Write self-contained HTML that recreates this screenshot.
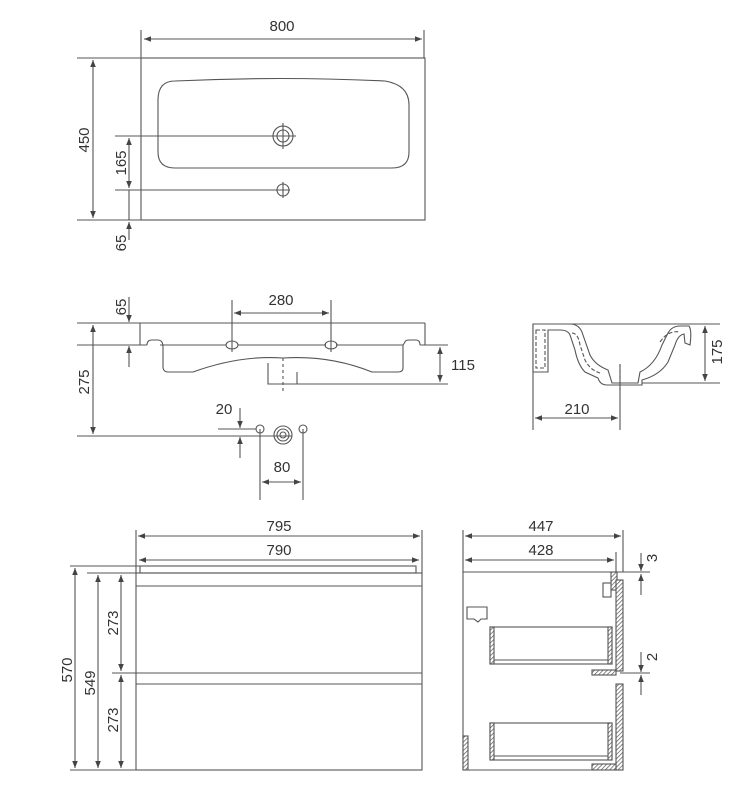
<!DOCTYPE html>
<html><head><style>
html,body{margin:0;padding:0;background:#fff}
svg{display:block}
text{font-family:"Liberation Sans",sans-serif;font-size:15px;fill:#333}
</style></head><body>
<svg width="746" height="800" viewBox="0 0 746 800" xmlns="http://www.w3.org/2000/svg">
<defs>
<marker id="a" viewBox="0 0 10 10" refX="10" refY="5" markerWidth="9" markerHeight="7" orient="auto-start-reverse" markerUnits="userSpaceOnUse"><path d="M0,1 L10,5 L0,9 Z" fill="#444"/></marker>
<pattern id="h" width="3" height="3" patternUnits="userSpaceOnUse" patternTransform="rotate(45)"><rect width="3" height="3" fill="#fff"/><line x1="0" y1="0" x2="0" y2="3" stroke="#555" stroke-width="1.4"/></pattern>
</defs>
<g stroke="#555" stroke-width="1.1" fill="none">
<!-- TOP VIEW -->
<rect x="141" y="58" width="284" height="162"/>
<line x1="141" y1="30" x2="141" y2="58"/><line x1="424" y1="30" x2="424" y2="58"/>
<line x1="144" y1="39" x2="422" y2="39" marker-start="url(#a)" marker-end="url(#a)"/>
<line x1="77" y1="58" x2="141" y2="58"/><line x1="77" y1="220" x2="141" y2="220"/>
<line x1="93" y1="60" x2="93" y2="218" marker-start="url(#a)" marker-end="url(#a)"/>
<path d="M175,81 Q280,76 385,81 Q409,85 409,105 L409,152 Q409,168 392,168 L175,168 Q158,168 158,152 L158,100 Q158,81 175,81 Z"/>
<circle cx="283" cy="136" r="10"/><circle cx="283" cy="136" r="6"/>
<line x1="271" y1="136" x2="296" y2="136"/><line x1="283" y1="123" x2="283" y2="149"/>
<circle cx="283" cy="190" r="6"/><line x1="283" y1="182" x2="283" y2="198"/>
<line x1="115" y1="136" x2="275" y2="136"/><line x1="115" y1="190" x2="290" y2="190"/>
<line x1="129" y1="138" x2="129" y2="188" marker-start="url(#a)" marker-end="url(#a)"/>
<line x1="129" y1="190" x2="129" y2="220"/>
<line x1="129" y1="240" x2="129" y2="222" marker-end="url(#a)"/>
<!-- SIDE VIEW -->
<line x1="77" y1="323" x2="425" y2="323"/>
<line x1="77" y1="345" x2="147" y2="345"/>
<line x1="336" y1="345" x2="403" y2="345"/>
<line x1="238" y1="345" x2="326" y2="345"/>
<line x1="160" y1="345" x2="226" y2="345"/>
<line x1="420" y1="345" x2="448" y2="345"/>
<line x1="140" y1="323" x2="140" y2="345"/><line x1="425" y1="323" x2="425" y2="345"/>
<path d="M147,345 Q147,340 152,340 L158,340 Q162,340 163,345 L163,368 Q164,372 168,372 L193,372 Q240,355 283,358 Q330,355 372,372 L398,372 Q403,372 403,368 L403,345"/>
<path d="M403,345 L405,342 Q405,340 410,340 L416,340 Q420,340 420,345"/>
<path d="M268,363 L268,384 L448,384"/><path d="M297,372 L297,384"/>
<path d="M193,372 L193,372"/>
<line x1="283" y1="358" x2="283" y2="392" stroke-dasharray="3,3"/>
<ellipse cx="232" cy="345" rx="6" ry="4"/><ellipse cx="331" cy="345" rx="6" ry="4"/>
<line x1="232" y1="300" x2="232" y2="352"/><line x1="331" y1="300" x2="331" y2="352"/>
<line x1="234" y1="313" x2="329" y2="313" marker-start="url(#a)" marker-end="url(#a)"/>
<line x1="129" y1="297" x2="129" y2="322" marker-end="url(#a)"/>
<line x1="129" y1="367" x2="129" y2="346" marker-end="url(#a)"/>
<line x1="93" y1="325" x2="93" y2="434" marker-start="url(#a)" marker-end="url(#a)"/>
<line x1="77" y1="436" x2="292" y2="436"/>
<line x1="440" y1="347" x2="440" y2="382" marker-start="url(#a)" marker-end="url(#a)"/>
<line x1="218" y1="429" x2="256" y2="429"/>
<line x1="240" y1="408" x2="240" y2="428" marker-end="url(#a)"/>
<line x1="240" y1="458" x2="240" y2="437" marker-end="url(#a)"/>
<circle cx="260" cy="429" r="4"/><circle cx="303" cy="429" r="4"/>
<circle cx="283" cy="435" r="9"/><circle cx="283" cy="435" r="6"/><circle cx="283" cy="435" r="3"/>
<line x1="260" y1="429" x2="260" y2="500"/><line x1="303" y1="429" x2="303" y2="500"/>
<line x1="262" y1="482" x2="301" y2="482" marker-start="url(#a)" marker-end="url(#a)"/>
<!-- SECTION -->
<line x1="533" y1="324" x2="720" y2="324"/>
<line x1="608" y1="383" x2="720" y2="383"/>
<line x1="705" y1="326" x2="705" y2="381" marker-start="url(#a)" marker-end="url(#a)"/>
<line x1="533" y1="324" x2="533" y2="430"/><line x1="620" y1="365" x2="620" y2="430"/>
<line x1="535" y1="418" x2="618" y2="418" marker-start="url(#a)" marker-end="url(#a)"/>
<path d="M533,324 L570,324 Q580,324 583,335 L590,355 Q595,365 608,370 L612,383 L638,383 L640,372 Q655,365 662,345 L668,333 Q672,326 680,326 L689,326 Q692,330 690,345 L685,343 L684,334 Q678,335 675,345 L668,362 Q660,375 642,380 L642,385 L607,385 Q600,385 598,378 L585,372 Q578,365 575,350 L570,335 Q568,330 560,330 L548,330 L548,372 L533,372 Z" fill="#fff"/>
<path d="M536,330 L545,330 L545,368 L536,368 Z M572,333 Q578,333 580,345 L585,360 Q590,370 600,373 M660,342 Q668,330 680,332" stroke-dasharray="4,2"/>
<line x1="620" y1="364" x2="620" y2="390" stroke-dasharray="3,3"/>
<!-- CABINET FRONT -->
<rect x="140" y="566" width="276" height="7"/>
<rect x="136" y="573" width="286" height="197"/>
<line x1="136" y1="586" x2="422" y2="586"/>
<line x1="112" y1="673" x2="422" y2="673"/><line x1="136" y1="684" x2="422" y2="684"/>
<line x1="136" y1="530" x2="136" y2="573"/><line x1="422" y1="530" x2="422" y2="573"/>
<line x1="138" y1="536" x2="420" y2="536" marker-start="url(#a)" marker-end="url(#a)"/>
<line x1="139" y1="560" x2="419" y2="560" marker-start="url(#a)" marker-end="url(#a)"/>
<line x1="70" y1="566" x2="140" y2="566"/><line x1="87" y1="573" x2="136" y2="573"/>
<line x1="70" y1="770" x2="136" y2="770"/>
<line x1="75" y1="568" x2="75" y2="768" marker-start="url(#a)" marker-end="url(#a)"/>
<line x1="98" y1="575" x2="98" y2="768" marker-start="url(#a)" marker-end="url(#a)"/>
<line x1="121" y1="575" x2="121" y2="671" marker-start="url(#a)" marker-end="url(#a)"/>
<line x1="121" y1="675" x2="121" y2="768" marker-start="url(#a)" marker-end="url(#a)"/>
<!-- CABINET SIDE -->
<line x1="463" y1="530" x2="463" y2="770"/><line x1="623" y1="530" x2="623" y2="572"/>
<line x1="616" y1="552" x2="616" y2="572"/>
<line x1="465" y1="536" x2="621" y2="536" marker-start="url(#a)" marker-end="url(#a)"/>
<line x1="465" y1="560" x2="614" y2="560" marker-start="url(#a)" marker-end="url(#a)"/>
<line x1="463" y1="572" x2="650" y2="572"/>
<line x1="463" y1="770" x2="616" y2="770"/>
<rect x="611" y="572" width="6" height="18" fill="url(#h)"/>
<rect x="616" y="580" width="7" height="91" fill="url(#h)"/>
<rect x="616" y="684" width="7" height="86" fill="url(#h)"/>
<rect x="603" y="583" width="8" height="14" fill="#fff"/>
<rect x="592" y="670" width="24" height="5" fill="url(#h)"/>
<rect x="592" y="764" width="24" height="6" fill="url(#h)"/>
<rect x="463" y="736" width="5" height="34" fill="url(#h)"/>
<rect x="490" y="627" width="122" height="37"/><line x1="494" y1="660" x2="612" y2="660"/>
<rect x="490" y="627" width="4" height="37" fill="url(#h)"/><rect x="608" y="627" width="4" height="37" fill="url(#h)"/>
<rect x="490" y="723" width="122" height="37"/><line x1="494" y1="756" x2="612" y2="756"/>
<rect x="490" y="723" width="4" height="37" fill="url(#h)"/><rect x="608" y="723" width="4" height="37" fill="url(#h)"/>
<path d="M467,607 L487,607 L487,619 L481,619 L478,622 L474,619 L467,619 Z"/>
<line x1="620" y1="673" x2="650" y2="673"/>
<line x1="641" y1="553" x2="641" y2="571" marker-end="url(#a)"/>
<line x1="641" y1="595" x2="641" y2="574" marker-end="url(#a)"/>
<line x1="641" y1="652" x2="641" y2="672" marker-end="url(#a)"/>
<line x1="641" y1="695" x2="641" y2="675" marker-end="url(#a)"/>
</g>
<text x="282" y="31" text-anchor="middle">800</text>
<text transform="translate(89,140) rotate(-90)" text-anchor="middle">450</text>
<text transform="translate(126,163) rotate(-90)" text-anchor="middle">165</text>
<text transform="translate(126,243) rotate(-90)" text-anchor="middle">65</text>
<text x="281" y="305" text-anchor="middle">280</text>
<text transform="translate(126,307) rotate(-90)" text-anchor="middle">65</text>
<text transform="translate(89,382) rotate(-90)" text-anchor="middle">275</text>
<text x="463" y="370" text-anchor="middle">115</text>
<text x="224" y="414" text-anchor="middle">20</text>
<text x="282" y="472" text-anchor="middle">80</text>
<text transform="translate(722,352) rotate(-90)" text-anchor="middle">175</text>
<text x="577" y="414" text-anchor="middle">210</text>
<text x="279" y="531" text-anchor="middle">795</text>
<text x="279" y="555" text-anchor="middle">790</text>
<text transform="translate(72,670) rotate(-90)" text-anchor="middle">570</text>
<text transform="translate(95,683) rotate(-90)" text-anchor="middle">549</text>
<text transform="translate(118,623) rotate(-90)" text-anchor="middle">273</text>
<text transform="translate(118,720) rotate(-90)" text-anchor="middle">273</text>
<text x="541" y="531" text-anchor="middle">447</text>
<text x="541" y="555" text-anchor="middle">428</text>
<text transform="translate(657,558) rotate(-90)" text-anchor="middle">3</text>
<text transform="translate(657,657) rotate(-90)" text-anchor="middle">2</text>
</svg>
</body></html>
